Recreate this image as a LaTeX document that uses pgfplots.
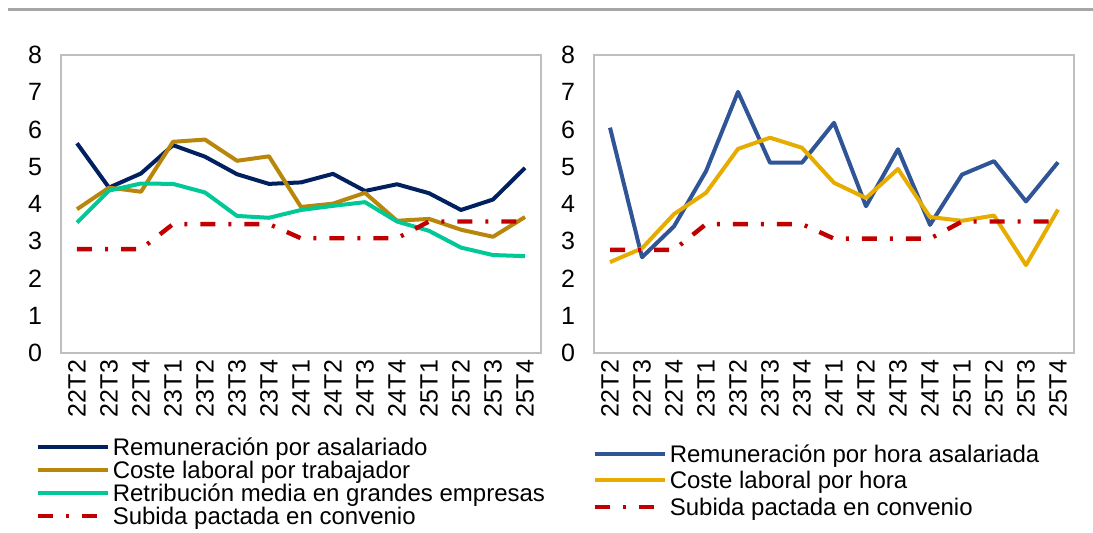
\documentclass[border=0pt]{standalone}
\usepackage{fontspec}
\setmainfont{Liberation Sans}
\usepackage{pgfplots}
\pgfplotsset{compat=1.18}
\definecolor{cnavy}{RGB}{0,32,96}
\definecolor{cgold}{RGB}{184,134,11}
\definecolor{cteal}{RGB}{0,200,150}
\definecolor{cblue}{RGB}{47,85,151}
\definecolor{cyellow}{RGB}{230,172,0}
\definecolor{cred}{RGB}{192,0,0}

\pgfplotsset{
  panel/.style={
    scale only axis, width=240pt, height=149pt,
    xmin=-0.5, xmax=14.5, ymin=0, ymax=8,
    xtick={0,...,14},
    xticklabels={22T2,22T3,22T4,23T1,23T2,23T3,23T4,24T1,24T2,24T3,24T4,25T1,25T2,25T3,25T4},
    ytick={0,...,8},
    axis line style={draw=gray!50, line width=0.7pt},
    major tick length=0pt,
    tick label style={font=\fontsize{12.5}{14}\selectfont},
    /pgf/number format/assume math mode=true,
    xticklabel style={rotate=90, anchor=east},
    yticklabel style={xshift=-6pt},
    legend cell align=left,
    legend style={draw=none, fill=none, inner sep=0pt, column sep=1.5pt,
      font=\fontsize{12}{13}\selectfont,
      nodes={inner sep=0pt, text height=8.8pt, text depth=2.5pt}},
    legend image code/.code={\draw[##1] (0pt,1pt) -- (35pt,1pt);},
    every axis plot/.append style={line width=2pt, line join=round},
  },
  pacto/.style={color=cred, line width=2.2pt,
    dash pattern=on 7.5pt off 6.5pt on 1.5pt off 6.5pt},
}

\begin{document}
\begin{tikzpicture}
\path[use as bounding box] (-30.5pt,-89.5pt) rectangle (516pt,176.5pt);
\draw[gray!70, line width=1.5pt] (-26.5pt,172pt) -- (516pt,172pt);

\begin{axis}[panel, at={(0pt,0pt)}, anchor=south west,
  legend style={at={(axis description cs:0,0)}, anchor=north west,
    xshift=-13pt, yshift=-42pt, row sep=0.2pt}]
  \addplot[cnavy] coordinates {(0,5.63)(1,4.44)(2,4.82)(3,5.58)(4,5.27)(5,4.80)(6,4.54)(7,4.58)(8,4.81)(9,4.35)(10,4.53)(11,4.29)(12,3.84)(13,4.12)(14,4.97)};
  \addlegendentry{Remuneración por asalariado}
  \addplot[cgold] coordinates {(0,3.86)(1,4.44)(2,4.33)(3,5.67)(4,5.73)(5,5.16)(6,5.28)(7,3.92)(8,4.01)(9,4.30)(10,3.55)(11,3.60)(12,3.31)(13,3.12)(14,3.65)};
  \addlegendentry{Coste laboral por trabajador}
  \addplot[cteal] coordinates {(0,3.50)(1,4.36)(2,4.55)(3,4.54)(4,4.31)(5,3.68)(6,3.63)(7,3.84)(8,3.95)(9,4.05)(10,3.53)(11,3.28)(12,2.83)(13,2.63)(14,2.60)};
  \addlegendentry{Retribución media en grandes empresas}
  \addplot[pacto] coordinates {(0,2.79)(1,2.79)(2,2.79)(3,3.46)(4,3.46)(5,3.46)(6,3.46)(7,3.08)(8,3.08)(9,3.08)(10,3.08)(11,3.53)(12,3.53)(13,3.53)(14,3.53)};
  \addlegendentry{Subida pactada en convenio}
\end{axis}

\begin{axis}[panel, at={(266.5pt,0pt)}, anchor=south west,
  legend style={at={(axis description cs:0,0)}, anchor=north west,
    xshift=-1pt, yshift=-45.5pt, row sep=1.95pt}]
  \addplot[cblue] coordinates {(0,6.05)(1,2.57)(2,3.40)(3,4.88)(4,7.01)(5,5.11)(6,5.11)(7,6.18)(8,3.94)(9,5.47)(10,3.44)(11,4.79)(12,5.15)(13,4.07)(14,5.12)};
  \addlegendentry{Remuneración por hora asalariada}
  \addplot[cyellow] coordinates {(0,2.44)(1,2.81)(2,3.73)(3,4.30)(4,5.48)(5,5.78)(6,5.51)(7,4.57)(8,4.16)(9,4.94)(10,3.65)(11,3.55)(12,3.69)(13,2.36)(14,3.85)};
  \addlegendentry{Coste laboral por hora}
  \addplot[pacto] coordinates {(0,2.77)(1,2.77)(2,2.77)(3,3.46)(4,3.46)(5,3.46)(6,3.46)(7,3.07)(8,3.07)(9,3.07)(10,3.07)(11,3.53)(12,3.53)(13,3.53)(14,3.53)};
  \addlegendentry{Subida pactada en convenio}
\end{axis}
\end{tikzpicture}
\end{document}
